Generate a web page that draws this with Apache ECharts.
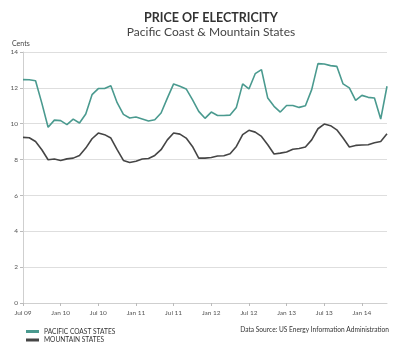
<!DOCTYPE html>
<html>
<head>
<meta charset="utf-8">
<script src="https://cdn.jsdelivr.net/npm/echarts@6/dist/echarts.min.js"></script>
<style>
  html, body { margin: 0; padding: 0; background: #fff; }
  #container { width: 400px; height: 354px; }
</style>
</head>
<body>
<div id="container"></div>
<script>
var dom = document.getElementById("container");
var myChart = echarts.init(dom);

// monthly, Jul 2009 - May 2014
var monthNames = ["Jan", "Feb", "Mar", "Apr", "May", "Jun", "Jul", "Aug", "Sep", "Oct", "Nov", "Dec"];
var months = [];
for (var i = 0; i < 59; i++) {
  var m = (6 + i) % 12;
  var y = 9 + Math.floor((6 + i) / 12);
  months.push(monthNames[m] + " " + (y < 10 ? "0" + y : y));
}

var pacific = [
  12.46, 12.45, 12.4, 11.15, 9.8, 10.2, 10.17, 9.95, 10.26, 10.04, 10.54, 11.62,
  11.96, 11.96, 12.12, 11.17, 10.52, 10.32, 10.37, 10.26, 10.15, 10.22, 10.6, 11.43,
  12.22, 12.09, 11.94, 11.34, 10.69, 10.3, 10.65, 10.46, 10.46, 10.48, 10.91, 12.22,
  11.94, 12.79, 13.02, 11.43, 10.97, 10.65, 11.02, 11.02, 10.91, 11.0, 11.9, 13.35,
  13.33, 13.24, 13.2, 12.22, 12.0, 11.3, 11.58, 11.47, 11.43, 10.26, 12.09
];
var mountain = [
  9.24, 9.22, 9.01, 8.55, 7.99, 8.03, 7.95, 8.04, 8.08, 8.23, 8.64, 9.16,
  9.48, 9.39, 9.2, 8.55, 7.95, 7.84, 7.91, 8.03, 8.06, 8.23, 8.55, 9.1,
  9.48, 9.42, 9.2, 8.73, 8.08, 8.08, 8.12, 8.2, 8.21, 8.32, 8.73, 9.39,
  9.63, 9.53, 9.29, 8.83, 8.31, 8.36, 8.42, 8.58, 8.62, 8.7, 9.1, 9.72,
  9.98, 9.89, 9.66, 9.2, 8.7, 8.79, 8.81, 8.83, 8.94, 9.01, 9.44
];
var seriesNames = ["PACIFIC COAST STATES", "MOUNTAIN STATES"];
var colors = ["#4a9a8f", "#454545"];

var font = "Lato, 'Open Sans', sans-serif";

option = {
  animation: false,
  textStyle: { fontFamily: font },
  title: [
    {
      text: "PRICE OF ELECTRICITY",
      subtext: "Pacific Coast & Mountain States",
      left: 206,
      textAlign: "center",
      top: 6,
      itemGap: 2,
      textStyle: { fontFamily: font, fontSize: 12.5, fontWeight: "bold", color: "#333" },
      subtextStyle: { fontFamily: font, fontSize: 12, color: "#444" }
    }
  ],
  graphic: [
    {
      type: "text",
      left: 12,
      top: 40,
      style: { text: "Cents", fontFamily: font, fontSize: 7, fill: "#444" }
    },
    {
      type: "text",
      right: 11,
      top: 326,
      style: { text: "Data Source: US Energy Information Administration", fontFamily: font, fontSize: 6.6, fill: "#333" }
    }
  ],
  legend: {
    orient: "vertical",
    left: 21,
    top: 323,
    itemWidth: 13,
    itemHeight: 3,
    itemGap: 1.5,
    icon: "rect",
    textStyle: { fontFamily: font, fontSize: 6.6, color: "#333" },
    data: seriesNames
  },
  grid: { left: 23, right: 13, top: 52, bottom: 51 },
  xAxis: {
    type: "category",
    data: months,
    boundaryGap: false,
    axisLine: { lineStyle: { color: "#cfcfcf" } },
    axisTick: {
      interval: function (idx) { return idx % 6 === 0; },
      lineStyle: { color: "#bbb" },
      length: 3
    },
    axisLabel: {
      interval: function (idx) { return idx % 6 === 0; },
      fontSize: 6.5,
      color: "#555",
      margin: 6
    }
  },
  yAxis: {
    type: "value",
    min: 0,
    max: 14,
    interval: 2,
    axisLine: { show: true, lineStyle: { color: "#cfcfcf" } },
    axisTick: { show: true, length: 3, lineStyle: { color: "#bbb" } },
    axisLabel: { fontSize: 6.5, color: "#555", margin: 5 },
    splitLine: { lineStyle: { color: "#dedede" } }
  },
  series: [
    {
      name: seriesNames[0],
      type: "line",
      data: pacific,
      symbol: "none",
      lineStyle: { width: 1.6, color: colors[0] },
      itemStyle: { color: colors[0] }
    },
    {
      name: seriesNames[1],
      type: "line",
      data: mountain,
      symbol: "none",
      lineStyle: { width: 1.6, color: colors[1] },
      itemStyle: { color: colors[1] }
    }
  ]
};
if (option && typeof option === "object") {
  myChart.setOption(option, true);
}
</script>
</body>
</html>
